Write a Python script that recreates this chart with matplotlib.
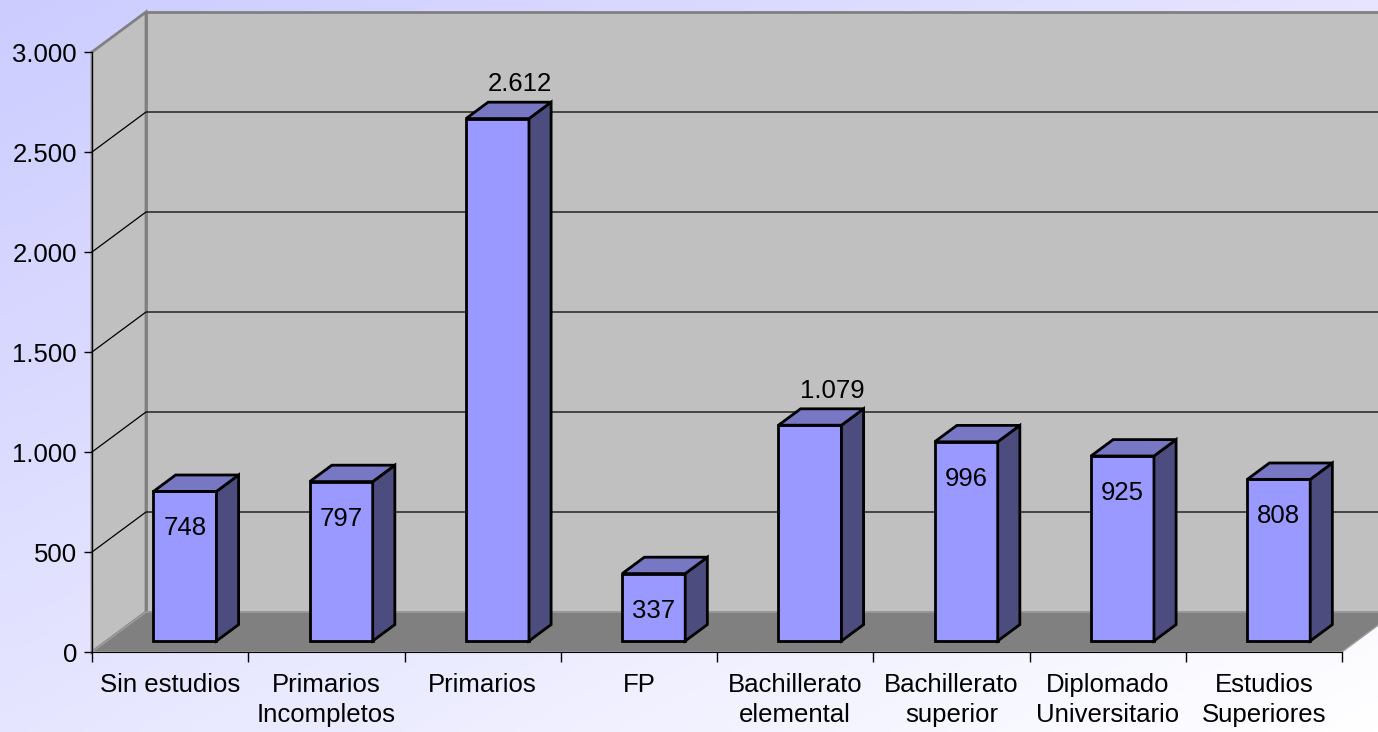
import numpy as np
import matplotlib
matplotlib.use('Agg')
from matplotlib import pyplot as plt
from matplotlib.patches import Polygon
from matplotlib.ticker import FuncFormatter, FixedLocator

plt.rcParams['font.family'] = ['Liberation Sans', 'DejaVu Sans']

# data
categories = ['Sin estudios', 'Primarios\nIncompletos', 'Primarios', 'FP',
              'Bachillerato\nelemental', 'Bachillerato\nsuperior',
              'Diplomado\nUniversitario', 'Estudios\nSuperiores']
values = [748, 797, 2612, 337, 1079, 996, 925, 808]
yticks = [0, 500, 1000, 1500, 2000, 2500, 3000]
labels_above = [2, 4]   # bars whose value label sits above the bar

# 3D look: depth offset in data units (category units, value units)
DX = 54 / 156.25
DY = 200.0
D0, D1 = 0.275, 0.685   # bar front / back depth
BW = 0.403              # bar width in categories
FS = 18.5


def P(x, v, d):
    return (x + d * DX, v + d * DY)


def poly(ax, pts, fc, ec='none', lw=1.0, z=1):
    ax.add_patch(Polygon(pts, closed=True, facecolor=fc, edgecolor=ec,
                         linewidth=lw, zorder=z, clip_on=False,
                         joinstyle='miter'))


fig = plt.figure(figsize=(13.78, 7.32), dpi=100)

# background gradient
bg = fig.add_axes([0, 0, 1, 1], zorder=-5)
gx, gy = np.meshgrid(np.linspace(0, 1, 300), np.linspace(0, 1, 160))
t = (gx + gy) / 2
c0 = np.array([204, 204, 255]) / 255
c1 = np.array([255, 255, 255]) / 255
img = c0[None, None, :] * (1 - t[..., None]) + c1[None, None, :] * t[..., None]
bg.imshow(img, aspect='auto', extent=[0, 1, 0, 1], origin='upper')
bg.axis('off')

ax = fig.add_axes([92 / 1378, 80 / 732, 1250 / 1378, 600 / 732])
ax.set_xlim(0, len(categories))
ax.set_ylim(0, 3000)
ax.patch.set_visible(False)
ymax = yticks[-1]
n = len(categories)

# walls and floor
poly(ax, [P(0, 0, 1), P(n, 0, 1), P(n, ymax, 1), P(0, ymax, 1)], '#C0C0C0', '#808080', 2, 0.5)
poly(ax, [P(0, 0, 0), P(0, 0, 1), P(0, ymax, 1), P(0, ymax, 0)], '#C0C0C0', '#808080', 2, 0.5)
for v in yticks[1:-1]:
    xs, ys = zip(P(0, v, 0), P(0, v, 1), P(n, v, 1))
    ax.plot(xs, ys, color='black', lw=0.9, zorder=0.6, clip_on=False)
poly(ax, [P(0, 0, 0), P(n, 0, 0), P(n, 0, 1), P(0, 0, 1)], '#808080', '#A0A0A0', 1, 0.7)

# bars
for i, v in enumerate(values):
    cx = i + 0.5
    x0, x1 = cx - BW / 2, cx + BW / 2
    z = 2 + i * 0.01
    poly(ax, [P(x0, 0, D0), P(x1, 0, D0), P(x1, v, D0), P(x0, v, D0)], '#9999FF', 'black', 2, z)
    poly(ax, [P(x1, 0, D0), P(x1, 0, D1), P(x1, v, D1), P(x1, v, D0)], '#4C4C7E', 'black', 2, z)
    poly(ax, [P(x0, v, D0), P(x1, v, D0), P(x1, v, D1), P(x0, v, D1)], '#7777C4', 'black', 2, z)
    txt = f'{v:,}'.replace(',', '.')
    if i in labels_above:
        lx, ly = P(cx, v + 90, D1)
    else:
        lx, ly = P(cx, v - 185, D0)
    ax.text(lx, ly, txt, ha='center', va='center', fontsize=FS, zorder=5)

# axes, ticks
for s in ['top', 'right']:
    ax.spines[s].set_visible(False)
ax.spines['left'].set_color('black')
ax.spines['bottom'].set_color('black')
ax.spines['left'].set_zorder(3)
ax.spines['bottom'].set_zorder(3)

ax.set_yticks(yticks)
ax.yaxis.set_major_formatter(FuncFormatter(lambda v, p: f'{int(v):,}'.replace(',', '.')))
ax.tick_params(axis='y', length=5.8, width=1, color='black', labelsize=FS, pad=5)

ax.xaxis.set_major_locator(FixedLocator(np.arange(n + 1)))
ax.xaxis.set_minor_locator(FixedLocator(np.arange(n) + 0.5))
ax.set_xticklabels([])
ax.set_xticklabels(categories, minor=True, fontsize=FS, linespacing=1.3)
ax.tick_params(axis='x', which='major', length=7.2, width=1, color='black')
ax.tick_params(axis='x', which='minor', length=0, pad=15)

fig.savefig('out.png', dpi=100)
